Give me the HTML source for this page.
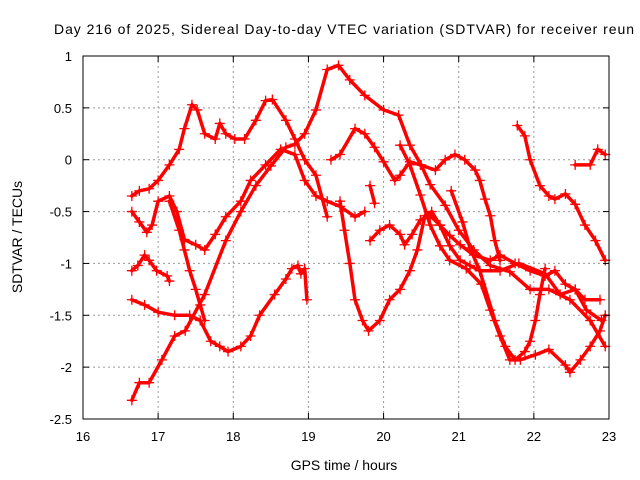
<!DOCTYPE html>
<html><head><meta charset="utf-8"><style>
body{margin:0;background:#fff;}
svg{display:block;font-family:"Liberation Sans",sans-serif;}
</style></head><body>
<svg width="640" height="480">
<g id="grid"></g>
<g id="series"></g>
<rect x="83" y="56" width="526" height="363" fill="none" stroke="#000" stroke-width="1"/>
<g id="ticks"></g>
<text x="54" y="34" font-size="14" textLength="580" lengthAdjust="spacing">Day 216 of 2025, Sidereal Day-to-day VTEC variation (SDTVAR) for receiver reun</text>
<text x="344" y="470" font-size="14" text-anchor="middle">GPS time / hours</text>
<text x="22" y="237" font-size="14" text-anchor="middle" transform="rotate(-90 22 237)">SDTVAR / TECUs</text>
</svg>
<script>
const xTicks=[16,17,18,19,20,21,22,23];
const yTicks=[1,0.5,0,-0.5,-1,-1.5,-2,-2.5];
const yTickLabels=["1","0.5","0","-0.5","-1","-1.5","-2","-2.5"];
const trackA=[[16.65,-2.32],[16.75,-2.15],[16.88,-2.15],[17.05,-1.93],[17.22,-1.7],[17.36,-1.65],[17.62,-1.3],[17.9,-0.78],[18.1,-0.5],[18.3,-0.25],[18.5,-0.06],[18.7,0.12],[18.82,0.15],[18.95,0.25],[19.1,0.48],[19.25,0.87],[19.4,0.91],[19.55,0.77],[19.75,0.62],[20.0,0.48],[20.2,0.43],[20.35,0.14],[20.5,-0.05],[20.62,-0.24],[20.82,-0.44],[21.0,-0.68],[21.2,-0.87],[21.42,-1.02],[21.68,-1.08],[21.95,-1.25],[22.2,-1.25],[22.48,-1.35],[22.75,-1.55],[22.95,-1.8]];
const trackB=[[16.65,-0.35],[16.75,-0.3],[16.88,-0.28],[17.0,-0.2],[17.15,-0.05],[17.28,0.1],[17.35,0.3],[17.45,0.53],[17.52,0.48],[17.62,0.25],[17.76,0.2],[17.82,0.35],[17.9,0.25],[18.02,0.2],[18.15,0.2],[18.3,0.38],[18.43,0.57],[18.52,0.58],[18.7,0.38],[18.82,0.2],[18.95,0.0],[19.1,-0.15],[19.25,-0.55]];
const trackC=[[16.65,-0.5],[16.75,-0.6],[16.85,-0.7],[16.92,-0.63],[17.0,-0.4],[17.15,-0.35],[17.25,-0.5],[17.35,-0.77],[17.5,-0.82],[17.62,-0.87],[17.76,-0.72],[17.9,-0.55],[18.1,-0.4],[18.23,-0.2],[18.43,-0.05],[18.63,0.1],[18.82,0.05],[18.95,-0.2],[19.1,-0.35],[19.25,-0.4],[19.42,-0.45],[19.62,-0.55],[19.75,-0.5]];
const trackD=[[16.65,-1.07],[16.73,-1.02],[16.82,-0.92],[16.88,-0.97],[16.98,-1.07],[17.12,-1.12],[17.15,-1.17]];
const trackE=[[16.65,-1.35],[16.82,-1.4],[17.0,-1.47],[17.22,-1.5],[17.42,-1.5],[17.56,-1.55],[17.7,-1.75],[17.82,-1.8],[17.93,-1.85],[18.1,-1.8],[18.23,-1.7],[18.35,-1.5],[18.55,-1.3],[18.7,-1.15],[18.78,-1.05],[18.86,-1.02],[18.9,-1.1],[18.95,-1.05],[18.98,-1.35]];
const trackF=[[17.15,-0.4],[17.28,-0.68],[17.35,-0.87],[17.42,-1.07],[17.5,-1.25],[17.56,-1.4],[17.62,-1.55]];
const trackG=[[19.42,-0.4],[19.48,-0.68],[19.55,-1.0],[19.62,-1.35],[19.72,-1.55],[19.8,-1.65],[19.95,-1.55],[20.08,-1.35],[20.22,-1.25],[20.35,-1.07],[20.45,-0.87],[20.55,-0.54],[20.64,-0.5],[20.75,-0.63],[20.88,-0.83],[21.02,-0.97],[21.15,-1.02],[21.28,-1.07],[21.55,-1.07],[21.8,-1.0],[22.15,-1.1],[22.35,-1.3],[22.55,-1.25],[22.68,-1.35],[22.88,-1.35]];
const trackH=[[19.82,-0.78],[19.95,-0.68],[20.08,-0.63],[20.22,-0.72],[20.28,-0.82],[20.38,-0.72],[20.49,-0.58],[20.62,-0.54],[20.75,-0.63],[20.88,-0.73],[21.02,-0.82],[21.2,-0.92],[21.42,-0.97],[21.55,-0.92],[21.75,-1.0],[21.95,-1.07],[22.15,-1.12],[22.28,-1.07],[22.42,-1.2],[22.55,-1.25],[22.7,-1.45],[22.9,-1.55]];
const trackI=[[19.3,0.0],[19.42,0.05],[19.62,0.3],[19.75,0.25],[19.88,0.12],[20.0,-0.02],[20.15,-0.2],[20.22,-0.15],[20.35,-0.02],[20.49,-0.05],[20.69,-0.1],[20.82,0.0],[20.95,0.05],[21.08,0.0],[21.22,-0.1],[21.28,-0.2],[21.35,-0.38],[21.42,-0.54],[21.48,-0.78],[21.55,-0.97]];
const trackJ=[[20.22,0.14],[20.35,-0.05],[20.49,-0.34],[20.62,-0.63],[20.75,-0.83],[20.88,-0.97],[21.1,-1.05],[21.3,-1.2],[21.42,-1.45],[21.55,-1.7],[21.68,-1.93],[21.82,-1.93],[22.02,-1.88],[22.2,-1.83],[22.42,-1.98],[22.48,-2.05],[22.62,-1.93],[22.75,-1.8],[22.88,-1.65],[22.95,-1.5]];
const trackK=[[20.9,-0.3],[21.05,-0.6],[21.15,-0.85],[21.28,-1.07],[21.48,-1.55],[21.62,-1.8],[21.75,-1.93],[21.88,-1.85],[21.95,-1.75],[22.02,-1.55],[22.08,-1.3],[22.15,-1.05]];
const trackL=[[21.78,0.33],[21.88,0.23],[21.95,0.0],[22.08,-0.25],[22.2,-0.35],[22.28,-0.38],[22.42,-0.33],[22.55,-0.43],[22.68,-0.63],[22.82,-0.78],[22.95,-0.97]];
const trackM=[[22.55,-0.05],[22.75,-0.05],[22.85,0.1],[22.95,0.05]];
const trackN=[[19.82,-0.25],[19.88,-0.42]];
const tracks=[trackA,trackB,trackC,trackD,trackE,trackF,trackG,trackH,trackI,trackJ,trackK,trackL,trackM,trackN];
const NS="http://www.w3.org/2000/svg";
const X=t=>83+(t-16)*526/7;
const Y=v=>56+(1-v)*363/3.5;
const grid=document.getElementById('grid'),ticks=document.getElementById('ticks'),ser=document.getElementById('series');
function mk(tag,attrs,parent){const e=document.createElementNS(NS,tag);for(const k in attrs)e.setAttribute(k,attrs[k]);parent.appendChild(e);return e;}
xTicks.forEach(t=>{const x=X(t);
 if(t>16&&t<23){const g=mk('line',{x1:x,x2:x,y1:56,y2:419,stroke:'#999','stroke-dasharray':'2,3'},grid);
 
 }
 mk('line',{x1:x,x2:x,y1:419,y2:413,stroke:'#000'},ticks);mk('line',{x1:x,x2:x,y1:56,y2:62,stroke:'#000'},ticks);
 const l=mk('text',{x:x,y:441,'font-size':13,'text-anchor':'middle'},ticks);l.textContent=t;
 
 });
yTicks.forEach((v,i)=>{const y=Y(v);
 if(v<1&&v>-2.5){const g=mk('line',{x1:83,x2:609,y1:y,y2:y,stroke:'#999','stroke-dasharray':'2,3'},grid);
 
 }
 mk('line',{x1:83,x2:89,y1:y,y2:y,stroke:'#000'},ticks);mk('line',{x1:603,x2:609,y1:y,y2:y,stroke:'#000'},ticks);
 const l=mk('text',{x:72,y:y+5,'font-size':13,'text-anchor':'end'},ticks);l.textContent=yTickLabels[i];
 
 });
tracks.forEach((tr,i)=>{
 const pts=tr.map(p=>X(p[0]).toFixed(1)+','+Y(p[1]).toFixed(1)).join(' ');
 const pl=mk('polyline',{points:pts,fill:'none',stroke:'#f00','stroke-width':3.5,'stroke-linejoin':'round','stroke-linecap':'round'},ser);
 
 
 tr.forEach(p=>{const x=X(p[0]),y=Y(p[1]);
  const m=mk('path',{d:`M${x-5},${y}h10M${x},${y-5}v10`,stroke:'#f00','stroke-width':1.3},ser);
  
  });
});
</script>
</body></html>
